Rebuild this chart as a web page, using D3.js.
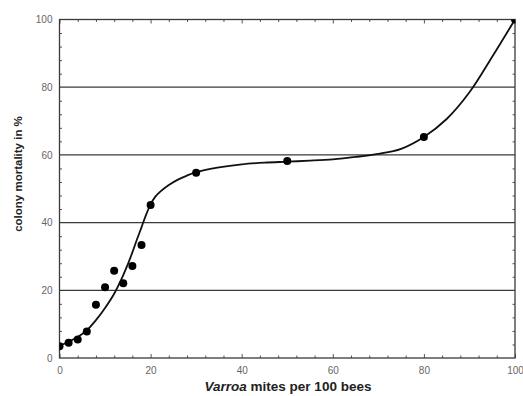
<!DOCTYPE html>
<html>
<head>
<meta charset="utf-8">
<script src="https://cdn.jsdelivr.net/npm/d3@7/dist/d3.min.js"></script>
<style>
  body { margin: 0; background: #fff; }
  text { font-family: "Liberation Sans", Arial, sans-serif; }
</style>
</head>
<body>
<div id="chart"></div>
<script>
'use strict'
/* global d3 */

// measured points
const mites = [0, 2, 4, 6, 8, 10, 12, 14, 16, 18, 20, 30, 50, 80, 100]
const mortality = [3.5, 4.5, 5.5, 7.8, 15.7, 20.9, 25.8, 22.1, 27.2, 33.4, 45.2, 54.7, 58.2, 65.3, 100]

// fitted curve
const curveX = [0, 2, 4, 6, 8, 10, 12, 14, 15, 16, 17, 18, 19, 20, 21, 22, 24, 26, 28, 30, 35, 40, 45, 50, 55, 60, 65, 70, 75, 80, 85, 90, 95, 100]
const curveY = [3.6, 4.8, 6.2, 8.2, 11.2, 14.8, 19.0, 24.5, 27.7, 31.2, 35.0, 38.6, 42.3, 45.4, 47.6, 49.0, 51.1, 52.7, 53.9, 54.9, 56.3, 57.2, 57.7, 58.0, 58.3, 58.7, 59.4, 60.3, 61.8, 65.3, 70.6, 78.5, 89.0, 100]

// ticks
const xTicks = [0, 20, 40, 60, 80, 100]
const yTicks = [0, 20, 40, 60, 80, 100]
const gridLines = [20, 40, 60, 80]

// Our canvas
const width = 523,
  height = 396,
  margin = {top: 19.5, right: 8, bottom: 38, left: 59.5}

const x = d3.scaleLinear().domain([0, 100]).range([margin.left, width - margin.right])
const y = d3.scaleLinear().domain([0, 100]).range([height - margin.bottom, margin.top])

let svg = d3.select('#chart')
  .append('svg')
  .attr('width', width)
  .attr('height', height)

svg.append('defs').append('clipPath')
  .attr('id', 'plot')
  .append('rect')
  .attr('x', x(0))
  .attr('y', y(100))
  .attr('width', x(100) - x(0))
  .attr('height', y(0) - y(100))

// grid
svg.append('g')
  .selectAll('line')
  .data(gridLines)
  .enter()
  .append('line')
  .attr('x1', x(0))
  .attr('x2', x(100))
  .attr('y1', d => y(d))
  .attr('y2', d => y(d))
  .attr('stroke', '#3a3a3a')
  .attr('stroke-width', 1.3)

// minor ticks every 4 units, inward on all four sides
const minor = d3.range(0, 101, 4).filter(d => d % 20 !== 0)
let tickStyle = g => g.call(g => g.select('.domain').remove())
  .call(g => g.selectAll('line').attr('stroke', '#555'))
  .call(g => g.selectAll('text').remove())

svg.append('g')
  .attr('transform', `translate(0,${y(0)})`)
  .call(d3.axisTop(x).tickValues(minor).tickSize(2.5))
  .call(tickStyle)
svg.append('g')
  .attr('transform', `translate(0,${y(100)})`)
  .call(d3.axisBottom(x).tickValues(minor).tickSize(2.5))
  .call(tickStyle)
svg.append('g')
  .attr('transform', `translate(${x(0)},0)`)
  .call(d3.axisRight(y).tickValues(minor).tickSize(2.5))
  .call(tickStyle)
svg.append('g')
  .attr('transform', `translate(${x(100)},0)`)
  .call(d3.axisLeft(y).tickValues(minor).tickSize(2.5))
  .call(tickStyle)

// major ticks
svg.append('g')
  .attr('transform', `translate(0,${y(0)})`)
  .call(d3.axisTop(x).tickValues(xTicks).tickSize(4))
  .call(tickStyle)
svg.append('g')
  .attr('transform', `translate(0,${y(100)})`)
  .call(d3.axisBottom(x).tickValues(xTicks).tickSize(4))
  .call(tickStyle)

// frame
svg.append('rect')
  .attr('x', x(0))
  .attr('y', y(100))
  .attr('width', x(100) - x(0))
  .attr('height', y(0) - y(100))
  .attr('fill', 'none')
  .attr('stroke', '#3a3a3a')
  .attr('stroke-width', 1.3)

// tick labels
svg.append('g')
  .attr('transform', `translate(0,${y(0)})`)
  .call(d3.axisBottom(x).tickValues(xTicks).tickSize(0).tickPadding(9))
  .call(g => g.select('.domain').remove())
  .call(g => g.selectAll('text').attr('fill', '#666').attr('font-size', 10))

svg.append('g')
  .attr('transform', `translate(${x(0)},0)`)
  .call(d3.axisLeft(y).tickValues(yTicks).tickSize(0).tickPadding(7))
  .call(g => g.select('.domain').remove())
  .call(g => g.selectAll('text').attr('fill', '#666').attr('font-size', 10))

// fitted curve
const line = d3.line()
  .x(d => x(d[0]))
  .y(d => y(d[1]))
  .curve(d3.curveCatmullRom)

svg.append('path')
  .datum(d3.zip(curveX, curveY))
  .attr('clip-path', 'url(#plot)')
  .attr('fill', 'none')
  .attr('stroke', '#111')
  .attr('stroke-width', 1.8)
  .attr('d', line)

// points
svg.append('g')
  .attr('clip-path', 'url(#plot)')
  .selectAll('circle')
  .data(d3.zip(mites, mortality))
  .enter()
  .append('circle')
  .attr('cx', d => x(d[0]))
  .attr('cy', d => y(d[1]))
  .attr('r', 4)
  .attr('fill', '#000')

// axis titles
let xTitle = svg.append('text')
  .attr('x', 288)
  .attr('y', 391)
  .attr('text-anchor', 'middle')
  .attr('font-size', 13.5)
  .attr('font-weight', 'bold')
  .attr('fill', '#222')
xTitle.append('tspan').attr('font-style', 'italic').text('Varroa')
xTitle.append('tspan').text(' mites per 100 bees')

svg.append('text')
  .attr('transform', 'translate(22,174) rotate(-90)')
  .attr('text-anchor', 'middle')
  .attr('font-size', 11.5)
  .attr('font-weight', 'bold')
  .attr('fill', '#222')
  .text('colony mortality in %')
</script>
</body>
</html>
